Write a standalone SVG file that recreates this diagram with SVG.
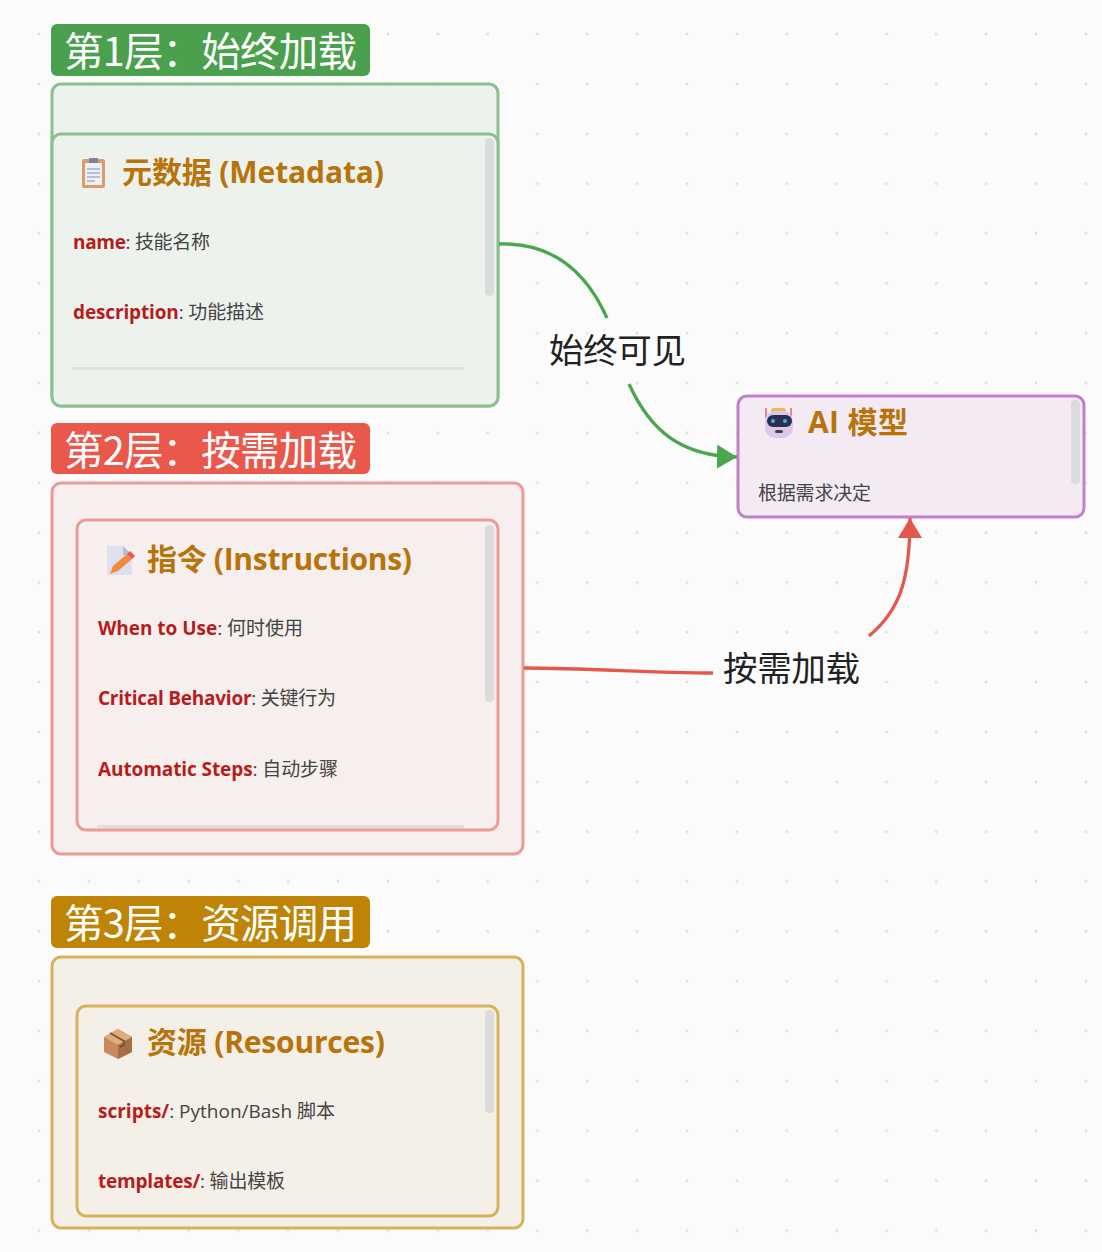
<svg xmlns="http://www.w3.org/2000/svg" width="1102" height="1252" viewBox="0 0 1102 1252">
<style>
text{font-family:"Open Sans","Noto Sans CJK SC",sans-serif}
.band{font-size:39.5px;fill:#fff;font-family:"Noto Sans CJK SC",sans-serif}
.title{font-size:30px;font-weight:700;fill:#b8730a}
.key{font-weight:700;fill:#b71c1c}
.item{font-size:19px;fill:#444}
.edge{font-size:34.5px;fill:#222;font-family:"Noto Sans CJK SC",sans-serif}
.bar{fill:#d9dcdb}
.conn{fill:none;stroke-width:3.3}
</style>
<defs>
<pattern id="dots" x="39" y="34" width="49.85" height="49.85" patternUnits="userSpaceOnUse"><circle cx="0" cy="0" r="1.5" fill="#dedede"/><circle cx="49.85" cy="0" r="1.5" fill="#dedede"/><circle cx="0" cy="49.85" r="1.5" fill="#dedede"/><circle cx="49.85" cy="49.85" r="1.5" fill="#dedede"/></pattern>
<marker id="ag" markerUnits="userSpaceOnUse" markerWidth="22" markerHeight="26" refX="20" refY="12" orient="auto"><path d="M0 0L20 12L0 24Z" fill="#4ca64f"/></marker>
<marker id="ar" markerUnits="userSpaceOnUse" markerWidth="22" markerHeight="26" refX="20" refY="12" orient="auto"><path d="M0 0L20 12L0 24Z" fill="#e5574a"/></marker>
</defs>
<rect width="1102" height="1252" fill="#fbfbfb"/>
<rect width="1102" height="1252" fill="url(#dots)"/>

<g id="layer1">
<rect x="52" y="84" width="446" height="322" rx="9" fill="#edf2ed" stroke="#8cbf8e" stroke-width="3"/>
<rect x="51" y="24" width="319" height="52" rx="6" fill="#4ba04d"/>
<text class="band" x="64" y="66" textLength="293">第1层：始终加载</text>
</g>
<g id="metadata">
<rect x="52" y="134" width="446" height="272" rx="9" fill="#edf2ed" stroke="#8cbf8e" stroke-width="3"/>
<rect class="bar" x="485" y="138" width="9" height="158" rx="4"/>
<rect x="72" y="367" width="392" height="3" fill="#dde2dd"/>
<g><rect x="82" y="159" width="23" height="29" rx="2" fill="#dd9a6c"/><rect x="85" y="163" width="17" height="22" fill="#eef0f6"/><rect x="89" y="158" width="9" height="5" rx="1" fill="#7c8098"/><path d="M87 169h13M87 173h13M87 177h13M87 181h8" stroke="#a9adc8" stroke-width="1.3"/></g>
<text class="title" x="122" y="183" textLength="262">元数据 (Metadata)</text>
<text class="item" x="73" y="249" textLength="137"><tspan class="key">name</tspan>: 技能名称</text>
<text class="item" x="73" y="319" textLength="191"><tspan class="key">description</tspan>: 功能描述</text>
</g>

<g id="layer2">
<rect x="52" y="483" width="471" height="371" rx="9" fill="#f7efed" stroke="#ec9a94" stroke-width="3"/>
<rect x="51" y="423" width="319" height="51" rx="6" fill="#ea584c"/>
<text class="band" x="64" y="465" textLength="293">第2层：按需加载</text>
</g>
<g id="instructions">
<rect x="77" y="520" width="421" height="310" rx="9" fill="#f7efed" stroke="#ec9a94" stroke-width="3"/>
<rect class="bar" x="485" y="525" width="9" height="177" rx="4"/>
<rect x="97" y="825" width="367" height="3" fill="#e2dedd"/>
<g><path d="M107 546h16l9 9v20h-25Z" fill="#dfe0ee"/><path d="M123 546l9 9h-9Z" fill="#b9bcd6"/><path d="M110 574l3-8 14-12 5 5-14 12Z" fill="#f08a3c"/><path d="M127 554l3-3 5 5-3 3Z" fill="#e8574a"/></g>
<text class="title" x="147" y="570" textLength="265">指令 (Instructions)</text>
<text class="item" x="98" y="635" textLength="205"><tspan class="key">When to Use</tspan>: 何时使用</text>
<text class="item" x="98" y="705" textLength="238"><tspan class="key">Critical Behavior</tspan>: 关键行为</text>
<text class="item" x="98" y="776" textLength="240"><tspan class="key">Automatic Steps</tspan>: 自动步骤</text>
</g>

<g id="layer3">
<rect x="52" y="957" width="471" height="271" rx="9" fill="#f4f0e8" stroke="#d9b05c" stroke-width="3"/>
<rect x="51" y="896" width="319" height="52" rx="6" fill="#bf8405"/>
<text class="band" x="64" y="938" textLength="293">第3层：资源调用</text>
</g>
<g id="resources">
<rect x="77" y="1006" width="421" height="210" rx="9" fill="#f4f0e8" stroke="#d9b05c" stroke-width="3"/>
<rect class="bar" x="485" y="1010" width="9" height="103" rx="4"/>
<g><path d="M118 1029l14 8v15l-14 7-14-7v-15Z" fill="#c78a5c"/><path d="M104 1037l14 8 14-8-14-8Z" fill="#dcae7f"/><path d="M118 1045v14l14-7v-15Z" fill="#a86f45"/><path d="M110 1033l14 8v4l-4 2" fill="none" stroke="#7d5335" stroke-width="2"/></g>
<text class="title" x="147" y="1053" textLength="238">资源 (Resources)</text>
<text class="item" x="98" y="1118" textLength="237"><tspan class="key">scripts/</tspan>: Python/Bash 脚本</text>
<text class="item" x="98" y="1188" textLength="187"><tspan class="key">templates/</tspan>: 输出模板</text>
</g>

<g id="ai-model">
<rect x="738" y="396" width="346" height="121" rx="9" fill="#f4eaf4" stroke="#c27fcc" stroke-width="3"/>
<rect class="bar" x="1071" y="400" width="9" height="84" rx="4"/>
<g><path d="M766 408v10M791 408v10" stroke="#e8606c" stroke-width="1.5"/><rect x="771" y="408" width="15" height="6" rx="3" fill="#f2b84c"/><rect x="765" y="411" width="28" height="27" rx="10" fill="#dcc9ea"/><rect x="767" y="415" width="25" height="12" rx="6" fill="#2c3050"/><circle cx="773" cy="421" r="2" fill="#39b7e8"/><circle cx="785" cy="421" r="2" fill="#39b7e8"/><rect x="775" y="430" width="8" height="3" rx="1.5" fill="#444"/></g>
<text class="title" x="808" y="433" textLength="100">AI 模型</text>
<text class="item" x="758" y="500" textLength="113">根据需求决定</text>
</g>

<g id="connectors">
<path class="conn" stroke="#4ca64f" d="M499 244C560 242 590 280 607 318"/>
<path class="conn" stroke="#4ca64f" marker-end="url(#ag)" d="M629 384C650 430 680 456 737 457"/>
<path class="conn" stroke="#e5574a" d="M524 668C590 668 650 673 713 673"/>
<path class="conn" stroke="#e5574a" marker-end="url(#ar)" d="M869 636C900 610 910 580 910 518"/>
<text class="edge" x="549" y="363" textLength="137">始终可见</text>
<text class="edge" x="723" y="681" textLength="137">按需加载</text>
</g>
</svg>
